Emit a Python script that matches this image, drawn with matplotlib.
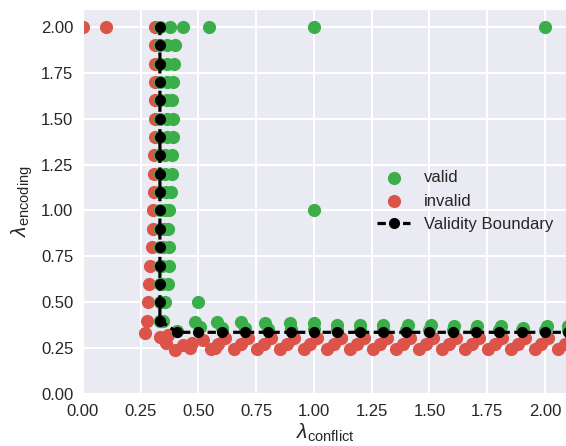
import matplotlib
matplotlib.use("Agg")
import matplotlib.pyplot as plt
import seaborn as sns

# boundary found by the search
bound_x = [0.333, 0.333, 0.333, 0.333, 0.333, 0.333, 0.333, 0.333, 0.333, 0.333, 0.333,
           0.333, 0.333, 0.333, 0.333, 0.333, 0.333,
           0.408, 0.5, 0.6, 0.7, 0.8, 0.9, 1.0, 1.1, 1.2, 1.3, 1.4, 1.5, 1.6, 1.7, 1.8,
           1.9, 2.0, 2.1]
bound_y = [2.0, 1.9, 1.8, 1.7, 1.6, 1.5, 1.4, 1.3, 1.2, 1.1, 1.0, 0.9, 0.8, 0.7, 0.6, 0.5, 0.4,
           0.336, 0.336, 0.336, 0.336, 0.336, 0.336, 0.336, 0.336, 0.336, 0.336, 0.336,
           0.336, 0.336, 0.336, 0.336, 0.336, 0.336, 0.336]

# valid samples
valid_x = [2.0, 1.0, 1.0, 0.547, 0.434, 0.377, 0.335, 0.5,
           # vertical branch
           0.362, 0.398, 0.362, 0.394, 0.362, 0.39, 0.362, 0.385, 0.362, 0.39,
           0.362, 0.39, 0.355, 0.385, 0.355, 0.385, 0.358, 0.38, 0.355, 0.373,
           0.35, 0.37, 0.345, 0.374, 0.343, 0.374, 0.34, 0.368, 0.338, 0.355, 0.335, 0.348,
           0.335, 0.335, 0.335, 0.335, 0.335, 0.335, 0.335, 0.335, 0.335, 0.335, 0.335,
           0.335, 0.335, 0.335, 0.335, 0.335,
           # horizontal branch
           0.408, 0.485, 0.506, 0.58, 0.6, 0.685, 0.7, 0.79, 0.8, 0.895, 0.9, 1.0, 1.0,
           1.1, 1.1, 1.2, 1.2, 1.3, 1.3, 1.407, 1.4, 1.506, 1.5, 1.607, 1.6, 1.707, 1.7,
           1.81, 1.8, 1.907, 1.9, 2.007, 2.0, 2.1, 2.1]
valid_y = [2.0, 2.0, 1.0, 2.0, 2.0, 2.0, 2.0, 0.5,
           1.9, 1.9, 1.8, 1.8, 1.7, 1.7, 1.6, 1.6, 1.5, 1.5,
           1.4, 1.4, 1.3, 1.3, 1.2, 1.2, 1.1, 1.1, 1.0, 1.0,
           0.9, 0.9, 0.8, 0.8, 0.7, 0.7, 0.6, 0.6, 0.5, 0.5, 0.4, 0.4,
           1.9, 1.8, 1.7, 1.6, 1.5, 1.4, 1.3, 1.2, 1.1, 1.0, 0.9,
           0.8, 0.7, 0.6, 0.5, 0.4,
           0.345, 0.394, 0.367, 0.394, 0.36, 0.394, 0.36, 0.385, 0.355, 0.385, 0.355,
           0.385, 0.355, 0.376, 0.35, 0.376, 0.35, 0.376, 0.35, 0.376, 0.35, 0.376, 0.35,
           0.37, 0.35, 0.37, 0.35, 0.37, 0.35, 0.362, 0.35, 0.37, 0.35, 0.37, 0.35]

# invalid samples
invalid_x = [0.0, 0.1, 0.312,
             # vertical branch
             0.31, 0.31, 0.31, 0.31, 0.31, 0.31, 0.308, 0.308, 0.306, 0.305, 0.303,
             0.3, 0.29, 0.285, 0.28, 0.275,
             # corner
             0.268, 0.333, 0.37, 0.36, 0.398, 0.434, 0.463, 0.47,
             # horizontal branch
             0.52, 0.571, 0.615, 0.585, 0.555, 0.715, 0.685, 0.655, 0.815, 0.785, 0.755,
             0.915, 0.885, 0.855, 1.015, 0.985, 0.955, 1.115, 1.085, 1.055,
             1.215, 1.185, 1.155, 1.315, 1.285, 1.255, 1.415, 1.385, 1.355,
             1.515, 1.485, 1.455, 1.615, 1.585, 1.555, 1.715, 1.685, 1.655,
             1.815, 1.785, 1.755, 1.915, 1.885, 1.855, 2.015, 1.985, 1.955,
             2.115, 2.085, 2.055]
invalid_y = [2.0, 2.0, 2.0,
             1.9, 1.8, 1.7, 1.6, 1.5, 1.4, 1.3, 1.2, 1.1, 1.0, 0.9,
             0.8, 0.7, 0.6, 0.5, 0.4,
             0.33, 0.312, 0.32, 0.276, 0.24, 0.267, 0.249, 0.276,
             0.294, 0.249, 0.305, 0.275, 0.245, 0.305, 0.275, 0.245, 0.305, 0.275, 0.245,
             0.305, 0.275, 0.245, 0.305, 0.275, 0.245, 0.305, 0.275, 0.245,
             0.305, 0.275, 0.245, 0.305, 0.275, 0.245, 0.305, 0.275, 0.245,
             0.305, 0.275, 0.245, 0.305, 0.275, 0.245, 0.305, 0.275, 0.245,
             0.305, 0.275, 0.245, 0.305, 0.275, 0.245, 0.305, 0.275, 0.245,
             0.305, 0.275, 0.245]

x_ticks = [0.0, 0.25, 0.5, 0.75, 1.0, 1.25, 1.5, 1.75, 2.0]
y_ticks = [0.0, 0.25, 0.5, 0.75, 1.0, 1.25, 1.5, 1.75, 2.0]

sns.set_style("darkgrid")
plt.rcParams["font.family"] = ["Liberation Sans", "DejaVu Sans"]
plt.rcParams["mathtext.fontset"] = "custom"
plt.rcParams["mathtext.rm"] = "Liberation Sans"
plt.rcParams["mathtext.it"] = "Liberation Sans:italic"
plt.rcParams["grid.linewidth"] = 1.5

fig = plt.figure(figsize=(5.66, 4.46), dpi=100)
ax = fig.add_axes([83 / 566, 52 / 446, 485 / 566, 385.5 / 446])

ax.scatter(valid_x, valid_y, s=90, color="#3aae48", label="valid", zorder=3, linewidths=0)
ax.scatter(invalid_x, invalid_y, s=90, color="#dc5449", label="invalid", zorder=2, linewidths=0)
ax.plot(bound_x, bound_y, marker="o", linestyle=(0, (2.6, 1.4)), color="black",
        linewidth=2.3, markersize=7, label="Validity Boundary", zorder=4)

ax.set_xlim(0, 2.1)
ax.set_ylim(0, 2.1)
ax.set_xticks(x_ticks)
ax.set_yticks(y_ticks)
ax.set_xticklabels([f"{t:.2f}" for t in x_ticks])
ax.set_yticklabels([f"{t:.2f}" for t in y_ticks])
ax.tick_params(labelsize=12)
ax.set_xlabel(r"$\lambda_{\mathrm{conflict}}$", fontsize=15, labelpad=2)
ax.set_ylabel(r"$\lambda_{\mathrm{encoding}}$", fontsize=15, labelpad=4)

ax.legend(loc="center right", fontsize=12, frameon=False, scatterpoints=1)

fig.savefig("out.png", dpi=100)
